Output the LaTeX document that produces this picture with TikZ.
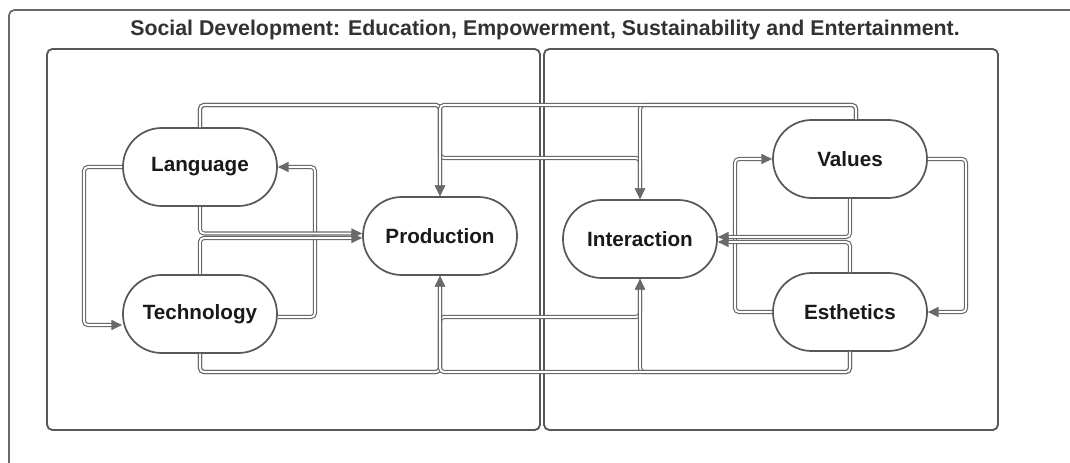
\documentclass[tikz,border=0pt]{standalone}
\usepackage{fontspec}
\setmainfont{Liberation Sans}
\usetikzlibrary{arrows.meta}

\definecolor{pipegray}{RGB}{105,105,105}
\definecolor{boxgray}{RGB}{88,88,88}
\definecolor{titlegray}{RGB}{50,50,50}

\tikzset{every picture/.style={line width=0.75pt}}
\tikzset{
  pill/.style={draw=boxgray, line width=1.3pt, fill=white, rounded corners=29pt,
    minimum width=115.5pt, minimum height=58.5pt, inner sep=0pt,
    font=\fontsize{15.5}{18}\selectfont\bfseries, text=black!90},
  link/.style={draw=pipegray, double=white, double distance=1.4pt, line width=0.85pt,
    rounded corners=3pt, -{Triangle[length=8pt,width=7.5pt]}},
  panel/.style={draw=boxgray, line width=1.4pt, rounded corners=4pt}
}

\begin{document}
\begin{tikzpicture}[x=0.75pt,y=0.75pt,yscale=-1,xscale=1]
\useasboundingbox (0,0) rectangle (1070,463);
%Shape: Outer Frame
\draw [draw=pipegray, line width=1.3pt, rounded corners=4pt] (9,475) -- (9,10) -- (1080,10) ;
% Text Node
\draw (545,30) node [font=\fontsize{16}{19}\selectfont\bfseries, text=titlegray, inner sep=0.75pt] (title) {Social Development: Education, Empowerment, Sustainability and Entertainment.};
%Shape: Rectangle
\draw [panel] (47,49) rectangle (540,430) ;
%Shape: Rectangle
\draw [panel] (544,49) rectangle (998,430) ;

% Nodes
\node [pill] (lang) at (200,167) {Language};
\node [pill] (tech) at (200,314) {Technology};
\node [pill] (prod) at (440,236) {Production};
\node [pill] (inter) at (640,239) {Interaction};
\node [pill] (val) at (850,159) {Values};
\node [pill] (esth) at (850,312) {Esthetics};

%Connectors: left loop (shifts follow yscale=-1, positive is downwards)
\draw [link] (lang.west) -- (84,167) |- ([yshift=8.25pt]tech.west) ;
\draw [link] ([yshift=2.25pt]tech.east) -- (315,317) |- (lang.east) ;
\draw [link] (lang.south) |- ([yshift=-1.9pt]prod.west) ;
\draw [link] (tech.north) |- ([yshift=1.5pt]prod.west) ;
%Connectors: right loop
\draw [link] (val.east) -- (966,159) |- (esth.east) ;
\draw [link] (esth.west) -- (735,312) |- (val.west) ;
\draw [link] (val.south) |- ([yshift=-1.5pt]inter.east) ;
\draw [link] (esth.north) |- ([yshift=2.25pt]inter.east) ;
%Connectors: top
\draw [link] (lang.north) |- (440,105) -- (prod.north) ;
\draw [link] (lang.north) |- (440,105) -- (440,158) -- (640,158) -- (inter.north) ;
\draw [link] ([xshift=4.5pt]val.north) |- (640,105) -- (inter.north) ;
\draw [link] ([xshift=4.5pt]val.north) |- (440,105) -- (prod.north) ;
%Connectors: bottom
\draw [link] (tech.south) |- (440,372) -- (prod.south) ;
\draw [link] (tech.south) |- (440,372) -- (440,317) -- (640,317) -- (inter.south) ;
\draw [link] (esth.south) |- (640,372) -- (inter.south) ;
\draw [link] (esth.south) |- (440,372) -- (prod.south) ;
\end{tikzpicture}
\end{document}
